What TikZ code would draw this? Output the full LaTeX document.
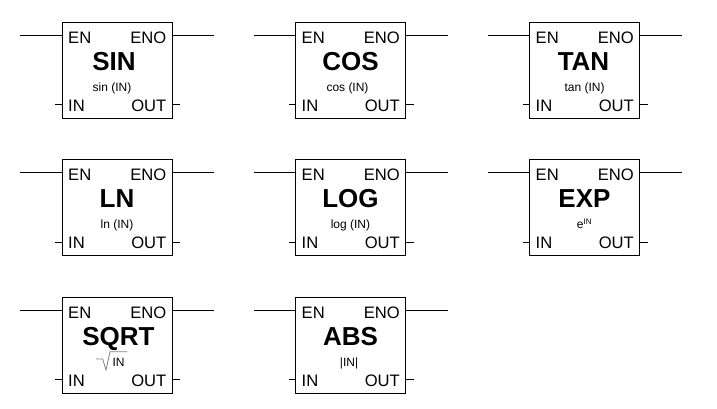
\documentclass[tikz,border=0pt]{standalone}
\usepackage{fontspec}
\setmainfont{Liberation Sans}
\usetikzlibrary{calc, positioning}
\tikzset{
    blockbox/.style={draw, line width=1pt, minimum width=110pt, minimum height=96pt, inner sep=0pt, outer sep=0pt},
    pinlabel/.style={inner sep=0pt, font=\fontsize{16.6}{18}\selectfont},
    blocktitle/.style={inner sep=0pt, anchor=base, font=\fontsize{26}{28}\selectfont\bfseries},
    blockformula/.style={inner sep=0pt, anchor=base, font=\fontsize{12}{14}\selectfont},
    pinline/.style={line width=1pt}
}
\newcommand{\fblock}[5]{
    \node[blockbox] (#1) at (#2+55, #3+48) {};
    \node[pinlabel, anchor=base west] (#1en) at ([shift={(6,21)}]#1.north west) {EN};
    \node[pinlabel, anchor=base east] (#1eno) at ([shift={(-5.5,21)}]#1.north east) {ENO};
    \node[pinlabel, anchor=base west] (#1in) at ([shift={(6,89.4)}]#1.north west) {IN};
    \node[pinlabel, anchor=base east] (#1out) at ([shift={(-5.5,89.4)}]#1.north east) {OUT};
    \node[blocktitle] (#1title) at ([shift={(0,48)}]#1.north) {#4};
    \node[blockformula] (#1formula) at ([shift={(0,69)}]#1.north) {#5};
    \coordinate (#1a) at (#2-42, #3+13);
    \coordinate (#1b) at (#2+152, #3+13);
    \coordinate (#1c) at (#2-7, #3+82.5);
    \coordinate (#1d) at (#2+118, #3+82.5);
    \draw[pinline]
    (#1a) -- (#1.west |- #1a)
    (#1b) -- (#1.east |- #1b)
    (#1c) -- (#1.west |- #1c)
    (#1d) -- (#1.east |- #1d);
}

\begin{document}
\begin{tikzpicture}[x=1pt, y=-1pt]
    \useasboundingbox (0, 0) rectangle (717, 408);

    \fblock{sin}{62}{22}{\hspace*{-6pt}SIN}{\hspace*{-10pt}sin (IN)}
    \fblock{cos}{295.5}{22}{COS}{\hspace*{-6pt}cos (IN)}
    \fblock{tan}{529.5}{22}{\hspace*{-2pt}TAN}{tan (IN)}
    \fblock{ln}{62}{159.5}{LN}{ln (IN)}
    \fblock{log}{295.5}{159.5}{LOG}{log (IN)}
    \fblock{exp}{529.5}{159.5}{EXP}{e\textsuperscript{IN}}
    \fblock{sqrt}{62}{297}{\hspace*{3pt}SQRT}{\hspace*{3pt}IN}
    \fblock{abs}{295.5}{297}{ABS}{\hspace*{-3pt}|IN|}

    % root sign
    \draw[gray, line width=0.8pt] (96, 359) -- (102.7, 359) -- (106, 370) -- (110, 351.7) -- (127.3, 351.7);
\end{tikzpicture}
\end{document}
